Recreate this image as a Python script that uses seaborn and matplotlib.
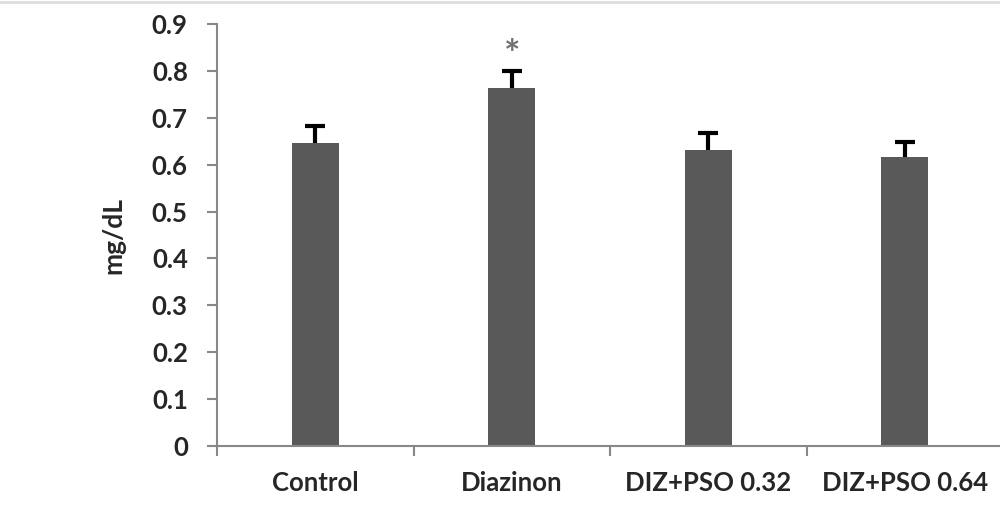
import numpy as np
import pandas as pd
import seaborn as sns
import matplotlib.pyplot as plt
from matplotlib.ticker import FixedLocator

groups = ['Control', 'Diazinon', 'DIZ+PSO 0.32', 'DIZ+PSO 0.64']
means = [0.647, 0.764, 0.632, 0.617]
errors = [0.036, 0.036, 0.036, 0.031]

data = pd.DataFrame({'group': groups, 'value': means})

sns.set_style('white')
plt.rcParams['font.family'] = ['Lato', 'DejaVu Sans']

fig = plt.figure(figsize=(10, 5.3), dpi=100)
ax = fig.add_axes([0.217, 0.1585, 0.786, 0.796])

sns.barplot(data=data, x='group', y='value', color='#595959', width=0.24,
            saturation=1, ax=ax)
for p in ax.patches:
    p.set_edgecolor('none')

# upward-only error bars
_, caps, _ = ax.errorbar(np.arange(len(groups)), means,
                         yerr=[np.zeros(len(errors)), errors],
                         fmt='none', ecolor='black', elinewidth=3,
                         capsize=7.5, capthick=3)
caps[0].set_visible(False)

# significance mark
ax.text(1, means[1] + errors[1] + 0.034, '*', ha='center', va='center',
        fontsize=28, fontweight='bold', color='#707070')

ax.set_ylim(0, 0.9)
ax.set_xlim(-0.5, 3.5)
ax.set_yticks(np.arange(0, 0.91, 0.1))
ax.set_yticklabels(['0'] + [f'{v:.1f}' for v in np.arange(0.1, 0.91, 0.1)])
ax.xaxis.set_minor_locator(FixedLocator([-0.5, 0.5, 1.5, 2.5, 3.5]))
ax.tick_params(axis='x', which='major', length=0, pad=18)
ax.tick_params(axis='x', which='minor', length=7, width=1.5, color='#888888', direction='out', bottom=True)
ax.tick_params(axis='y', length=7, width=1.5, color='#888888', direction='out', left=True, pad=14)

for lbl in ax.get_xticklabels() + ax.get_yticklabels():
    lbl.set_fontsize(18.5)
    lbl.set_fontweight('bold')

ax.set_xlabel('')
ax.set_ylabel('mg/dL', fontsize=19, fontweight='bold')
ax.yaxis.set_label_coords(-0.117, 0.5)

for side in ['top', 'right']:
    ax.spines[side].set_visible(False)
for side in ['left', 'bottom']:
    ax.spines[side].set_color('#888888')
    ax.spines[side].set_linewidth(1.5)

fig.add_artist(plt.Line2D([0, 1], [0.997, 0.997], color='#dddddd', linewidth=2, transform=fig.transFigure))

fig.savefig('out.png', dpi=100)
